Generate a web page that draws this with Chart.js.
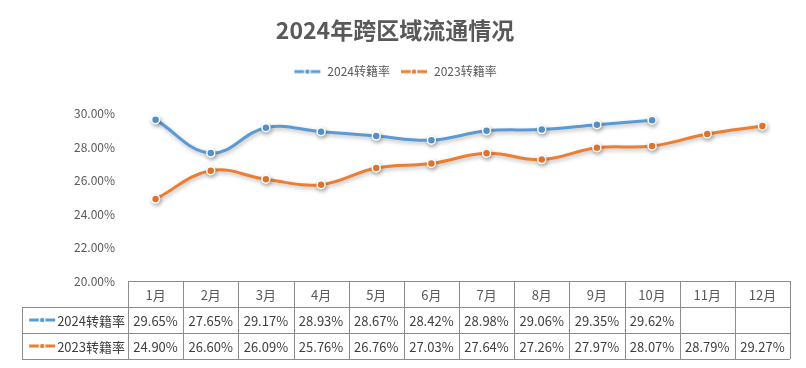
<!DOCTYPE html>
<html>
<head>
<meta charset="utf-8">
<script src="https://cdn.jsdelivr.net/npm/chart.js@4"></script>
<style>
  html, body { margin: 0; padding: 0; background: #fff; }
  #wrap { width: 806px; height: 368px; }
</style>
</head>
<body>
<div id="wrap"><canvas id="lineChart" width="806" height="368"></canvas></div>
<script>
const months = ['1月', '2月', '3月', '4月', '5月', '6月', '7月', '8月', '9月', '10月', '11月', '12月'];
const rate2024 = [29.65, 27.65, 29.17, 28.93, 28.67, 28.42, 28.98, 29.06, 29.35, 29.62, null, null];
const rate2023 = [24.90, 26.60, 26.09, 25.76, 26.76, 27.03, 27.64, 27.26, 27.97, 28.07, 28.79, 29.27];
const seriesNames = ['2024转籍率', '2023转籍率'];
const yMin = 20, yMax = 30, yStep = 2;

const blue = '#5b9bd5';
const orange = '#ed7d31';
const fontFamily = '"Noto Sans CJK SC", "Microsoft YaHei", sans-serif';

// small line-with-dot marker, used in the legend and the table
function makeMarker(color) {
    const c = document.createElement('canvas');
    c.width = 28; c.height = 8;
    const g = c.getContext('2d');
    g.strokeStyle = color;
    g.lineWidth = 3;
    g.beginPath(); g.moveTo(1, 4); g.lineTo(27, 4); g.stroke();
    g.fillStyle = color;
    g.strokeStyle = '#fff';
    g.lineWidth = 1.2;
    g.beginPath(); g.arc(14, 4, 2.8, 0, Math.PI * 2); g.fill(); g.stroke();
    return c;
}
const markers = [makeMarker(blue), makeMarker(orange)];

const shadowPlugin = {
    id: 'lineShadow',
    beforeDatasetsDraw(chart) {
        const ctx = chart.ctx;
        ctx.save();
        ctx.shadowColor = 'rgba(0,0,0,0.28)';
        ctx.shadowBlur = 4;
        ctx.shadowOffsetX = 1;
        ctx.shadowOffsetY = 2;
    },
    afterDatasetsDraw(chart) {
        chart.ctx.restore();
    }
};

// data table under the plot, Excel style
const tablePlugin = {
    id: 'dataTable',
    afterDraw(chart) {
        const ctx = chart.ctx;
        const x = chart.scales.x;
        const left = x.left, right = x.right;
        const colW = (right - left) / months.length;
        const top = chart.chartArea.bottom;
        const rowH = 26;
        const labelLeft = 22;
        const rows = [rate2024, rate2023];

        ctx.save();
        ctx.strokeStyle = '#8c8c8c';
        ctx.lineWidth = 1;
        ctx.beginPath();
        ctx.moveTo(left, top + 0.5); ctx.lineTo(right, top + 0.5);
        for (let r = 1; r <= 3; r++) {
            const y = Math.round(top + r * rowH) + 0.5;
            ctx.moveTo(labelLeft, y); ctx.lineTo(right, y);
        }
        for (let c = 0; c <= months.length; c++) {
            const xx = Math.round(left + c * colW) + 0.5;
            ctx.moveTo(xx, top); ctx.lineTo(xx, top + 3 * rowH);
        }
        ctx.moveTo(labelLeft + 0.5, top + rowH); ctx.lineTo(labelLeft + 0.5, top + 3 * rowH);
        ctx.stroke();

        ctx.textBaseline = 'middle';
        ctx.textAlign = 'center';
        ctx.font = '13px ' + fontFamily;
        months.forEach((m, i) => {
            ctx.fillStyle = '#595959';
            ctx.fillText(m, x.getPixelForValue(i), top + rowH / 2 + 1);
            rows.forEach((row, r) => {
                if (row[i] === null) return;
                ctx.fillStyle = '#404040';
                ctx.fillText(row[i].toFixed(2) + '%', x.getPixelForValue(i), top + rowH * (r + 1.5) + 1);
            });
        });

        ctx.textAlign = 'right';
        seriesNames.forEach((name, r) => {
            const cy = top + rowH * (r + 1.5);
            ctx.fillStyle = '#404040';
            ctx.fillText(name, left - 3, cy + 1);
            const tw = ctx.measureText(name).width;
            ctx.drawImage(markers[r], left - 3 - tw - 29, cy - 4);
        });
        ctx.restore();
    }
};

const whiteBg = {
    id: 'whiteBg',
    beforeDraw(chart) {
        const ctx = chart.ctx;
        ctx.save();
        ctx.fillStyle = '#fff';
        ctx.fillRect(0, 0, chart.width, chart.height);
        ctx.restore();
    }
};

const lineCtx = document.getElementById('lineChart').getContext('2d');
const lineChart = new Chart(lineCtx, {
    type: 'line',
    data: {
        labels: months,
        datasets: [
            {
                label: seriesNames[0],
                data: rate2024,
                borderColor: blue,
                backgroundColor: blue,
                borderWidth: 3,
                tension: 0.4,
                pointStyle: 'circle',
                pointRadius: 4,
                pointBackgroundColor: blue,
                pointBorderColor: '#fff',
                pointBorderWidth: 1.5
            },
            {
                label: seriesNames[1],
                data: rate2023,
                borderColor: orange,
                backgroundColor: orange,
                borderWidth: 3,
                tension: 0.4,
                pointStyle: 'circle',
                pointRadius: 4,
                pointBackgroundColor: orange,
                pointBorderColor: '#fff',
                pointBorderWidth: 1.5
            }
        ]
    },
    options: {
        responsive: false,
        animation: false,
        layout: {
            padding: { left: 0, right: 16, top: 0, bottom: 87 }
        },
        plugins: {
            title: {
                display: true,
                text: '2024年跨区域流通情况',
                color: '#595959',
                font: { family: fontFamily, size: 23, weight: 'bold' },
                padding: { top: 16, bottom: 12 }
            },
            // empty spacer between legend and plot
            subtitle: {
                display: true,
                text: '',
                weight: 500,
                font: { size: 1 },
                padding: { top: 0, bottom: 25 }
            },
            legend: {
                display: true,
                position: 'top',
                labels: {
                    usePointStyle: true,
                    pointStyleWidth: 28,
                    color: '#595959',
                    font: { family: fontFamily, size: 12 },
                    padding: 10,
                    generateLabels(chart) {
                        return chart.data.datasets.map((ds, i) => ({
                            text: ds.label,
                            pointStyle: markers[i],
                            fontColor: '#595959',
                            datasetIndex: i,
                            lineWidth: 0,
                            strokeStyle: 'transparent',
                            fillStyle: 'transparent'
                        }));
                    }
                }
            },
            tooltip: { enabled: false }
        },
        scales: {
            x: {
                display: false,
                offset: true
            },
            y: {
                min: yMin,
                max: yMax,
                border: { display: false },
                grid: { display: false, drawTicks: false },
                ticks: {
                    stepSize: yStep,
                    padding: 13,
                    color: '#595959',
                    font: { family: fontFamily, size: 12 },
                    callback: v => v.toFixed(2) + '%'
                },
                afterFit(scale) { scale.width = 128; }
            }
        }
    },
    plugins: [whiteBg, shadowPlugin, tablePlugin]
});
</script>
</body>
</html>
